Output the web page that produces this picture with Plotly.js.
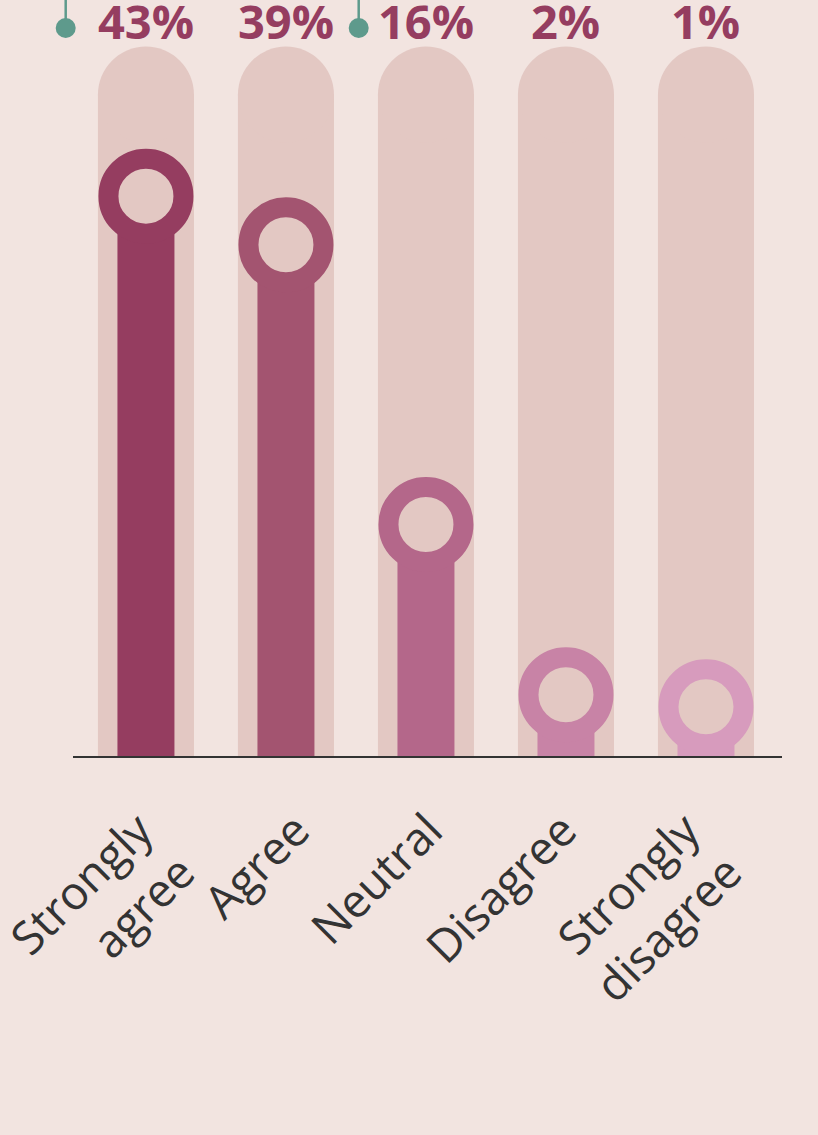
<!DOCTYPE html>
<html>
<head>
<meta charset="utf-8">
<script src="https://cdn.plot.ly/plotly-3.0.1.min.js"></script>
<style>
  html, body { margin: 0; padding: 0; background: #f2e4e0; }
  #chart { width: 818px; height: 1135px; }
</style>
</head>
<body>
<div id="chart"></div>
<script>
// Survey answers and their shares (%)
const categories = ['Strongly<br>agree', 'Agree', 'Neutral', 'Disagree', 'Strongly<br>disagree'];
const shares = [43, 39, 16, 2, 1];
const shareLabels = shares.map(v => v + '%');
const stemColors = ['#953d60', '#a35470', '#b4678a', '#c883a6', '#d79bbd'];

// Height of the rounded backing tracks, in the same units as the shares
const trackTop = 55.3;

const W = 818, H = 1135;
const margin = { l: 73, r: 36, t: 0, b: 379 };
const plotW = W - margin.l - margin.r;
const plotH = H - margin.t - margin.b;

// Value axis: the baseline sits a little below zero so the rings clear it
const yMin = -3.04;
const pxPerUnit = 12.16;
const yMax = yMin + plotH / pxPerUnit;

const xs = categories.map((_, i) => i);
const xRange = [-0.521, 4.543];
const unitPx = plotW / (xRange[1] - xRange[0]);

// small horizontal nudges (px) for the slanted category labels
const labelNudgePx = [-7, 10, 3, -3, -20];

const trackWidth = 0.686;               // in category units
const capDiameter = trackWidth * unitPx; // px, rounded top of each track
const capCenter = trackTop - capDiameter / 2 / pxPerUnit;

const trackColor = '#e3c8c3';
const bg = '#f2e4e0';
const teal = '#5e9a8c';

const tracks = {
  type: 'bar',
  x: xs,
  y: xs.map(() => capCenter - yMin),
  base: yMin,
  width: trackWidth,
  marker: { color: trackColor, line: { width: 0 } },
  hoverinfo: 'skip',
  showlegend: false
};

const trackCaps = {
  type: 'scatter',
  mode: 'markers',
  x: xs,
  y: xs.map(() => capCenter),
  marker: { symbol: 'circle', size: capDiameter, color: trackColor, line: { width: 0 } },
  cliponaxis: false,
  hoverinfo: 'skip',
  showlegend: false
};

const stems = {
  type: 'bar',
  x: xs,
  y: shares.map(v => v - yMin),
  base: yMin,
  width: 0.407,
  marker: { color: stemColors, line: { width: 0 } },
  hoverinfo: 'skip',
  showlegend: false
};

const rings = {
  type: 'scatter',
  mode: 'markers',
  x: xs,
  y: shares,
  marker: {
    symbol: 'circle',
    size: 75,
    color: trackColor,
    line: { color: stemColors, width: 20 }
  },
  cliponaxis: false,
  hoverinfo: 'skip',
  showlegend: false
};

// helpers for pixel -> paper coordinates of the pointer decorations
const px = x => (x - margin.l) / plotW;
const py = y => (H - margin.b - y) / plotH;

const pointerXs = [65.7, 358.7];
const shapes = [];
pointerXs.forEach(x => {
  shapes.push({
    type: 'line', xref: 'paper', yref: 'paper',
    x0: px(x), x1: px(x), y0: py(-2), y1: py(22),
    line: { color: teal, width: 2.5 }
  });
  shapes.push({
    type: 'circle', xref: 'paper', yref: 'paper',
    x0: px(x - 10), x1: px(x + 10), y0: py(38), y1: py(18),
    fillcolor: teal, line: { width: 0 }
  });
});

const annotations = shareLabels.map((t, i) => ({
  x: i, xref: 'x',
  y: py(21), yref: 'paper',
  yanchor: 'middle', xanchor: 'center',
  text: t,
  showarrow: false,
  font: { family: 'Open Sans', size: 47, weight: 'bold', color: '#953d60' }
}));

const layout = {
  width: W, height: H,
  margin: margin,
  paper_bgcolor: bg,
  plot_bgcolor: bg,
  barmode: 'overlay',
  hovermode: false,
  showlegend: false,
  xaxis: {
    range: xRange,
    tickvals: xs.map((x, i) => x + labelNudgePx[i] / unitPx),
    ticktext: categories,
    tickangle: -45,
    ticks: '',
    ticklabelstandoff: 27,
    ticklabeloverflow: 'allow',
    showgrid: false,
    zeroline: false,
    showline: true,
    linecolor: '#333333',
    linewidth: 2,
    tickfont: { family: 'Open Sans', size: 46, color: '#333333' },
    fixedrange: true
  },
  yaxis: {
    range: [yMin, yMax],
    visible: false,
    showgrid: false,
    zeroline: false,
    fixedrange: true
  },
  shapes: shapes,
  annotations: annotations
};

Plotly.newPlot('chart', [tracks, trackCaps, stems, rings], layout, { displayModeBar: false, staticPlot: true });
</script>
</body>
</html>
